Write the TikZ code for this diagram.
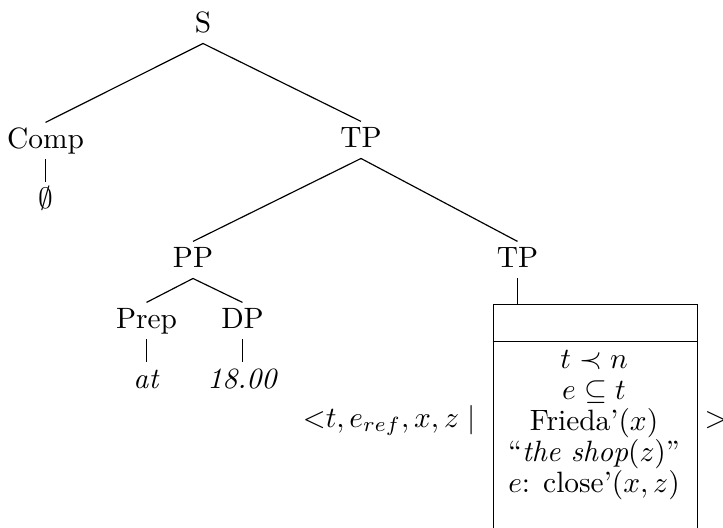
\documentclass[tikz,border=0pt]{standalone}
\begin{document}
\begin{tikzpicture}[x=0.34pt,y=-0.34pt,
  tnode/.style={inner xsep=0pt, inner ysep=1.5pt, text height=7pt, text depth=2.2pt, anchor=base},
  plain/.style={inner sep=0pt, anchor=base},
  branch/.style={line width=0.4pt}]
\useasboundingbox (0,0) rectangle (723,527);
\clip (0,0) rectangle (723,527);
% tree nodes
\node[tnode] (s) at (203,32) {S};
\node[tnode] (comp) at (45.5,148) {Comp};
\node[tnode] (tp1) at (361,147) {TP};
\node[tnode] (empty) at (45.5,208) {$\emptyset$};
\node[tnode] (pp) at (193,267) {PP};
\node[tnode] (tp2) at (517.5,267) {TP};
\node[tnode] (prep) at (146.5,328) {Prep};
\node[tnode] (dp) at (242.5,328) {DP};
\node[tnode] (at) at (146.5,388) {\textit{at}};
\node[tnode] (time) at (242.5,388) {\textit{18.00}};
% branches
\draw[branch] (s.south) -- (comp.north);
\draw[branch] (s.south) -- (tp1.north);
\draw[branch] (comp.south) -- (empty.north);
\draw[branch] (tp1.south) -- (pp.north);
\draw[branch] (tp1.south) -- (tp2.north);
\draw[branch] (pp.south) -- (prep.north);
\draw[branch] (pp.south) -- (dp.north);
\draw[branch] (prep.south) -- (at.north);
\draw[branch] (dp.south) -- (time.north);
% DRS box
\node[draw, line width=0.4pt, inner sep=0pt, minimum width=69.36pt, minimum height=106pt, anchor=north west] (drs) at (492.5,303.5) {};
\draw[branch] ([yshift=-12.92pt]drs.north west) -- ([yshift=-12.92pt]drs.north east);
\draw[branch] (tp2.south) -- (tp2.south |- drs.north);
% box conditions
\node[plain] (c1) at (594,368) {$t \prec n$};
\node[plain] (c2) at (594,399) {$e \subseteq t$};
\node[plain] (c3) at (594,430) {Frieda'$(x)$};
\node[plain] (c4) at (594,461) {``\textit{the shop}$(z)$''};
\node[plain] (c5) at (594,492) {$e$: close'$(x,z)$};
% tuple
\node[inner sep=0pt, anchor=base east] (tuple) at (476,427) {${<}t, e_{ref}, x, z \mid$};
\node[plain] (close) at (716,427) {${>}$};
\end{tikzpicture}
\end{document}
